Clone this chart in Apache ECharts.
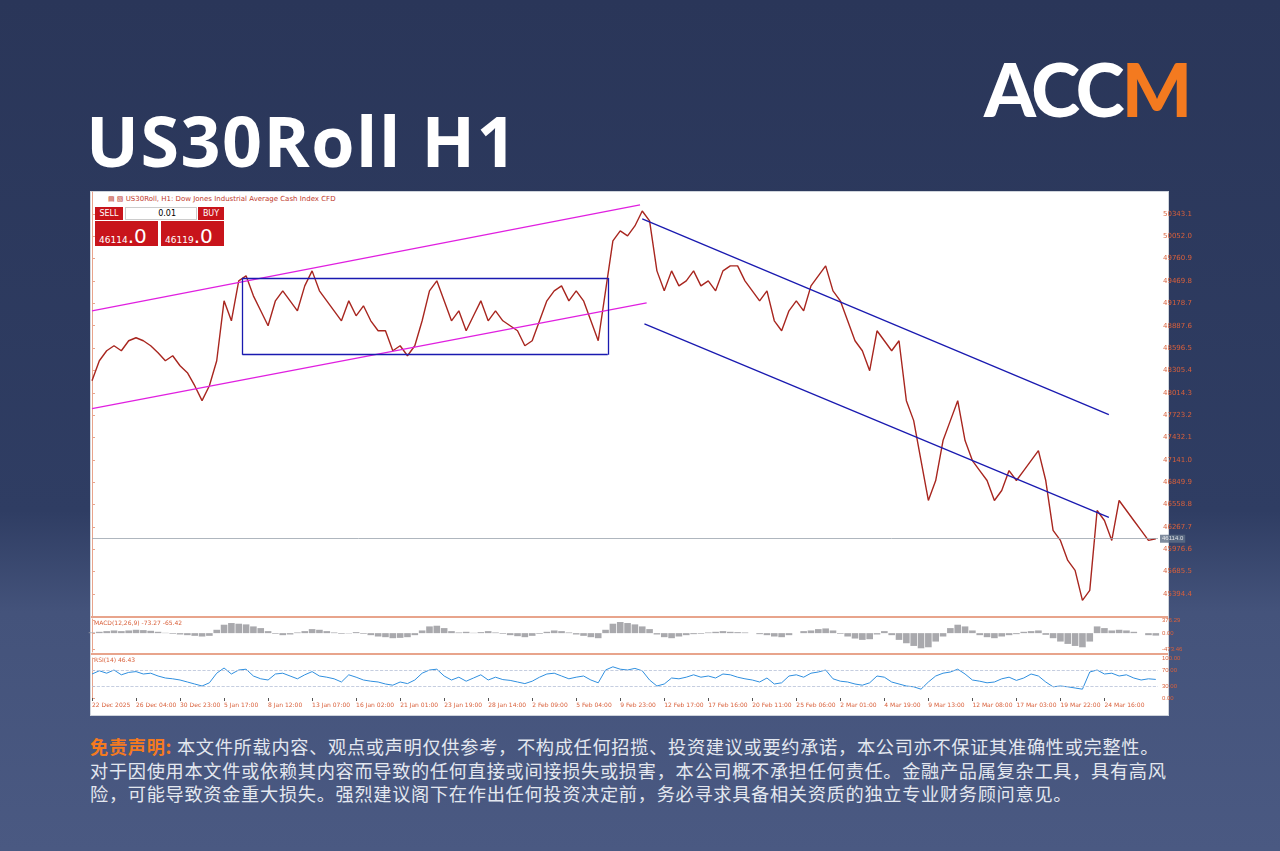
<!DOCTYPE html>
<html><head><meta charset="utf-8">
<script src="https://cdn.jsdelivr.net/npm/echarts@6/dist/echarts.min.js"></script>
<style>
html,body{margin:0;padding:0;width:1280px;height:851px;overflow:hidden;font-family:"Noto Sans CJK SC","Noto Sans",sans-serif}
body{background:linear-gradient(180deg,#2a3659 0%,#2f3d63 60%,#44537b 72%,#4a5982 100%);position:relative}
#title{position:absolute;left:86px;top:92px;font:700 70px "Open Sans",Roboto,sans-serif;color:#fff;letter-spacing:1.5px}
#logo{position:absolute;left:984px;top:44px;font:900 74px Lato,"Open Sans",sans-serif;color:#fff;letter-spacing:-3px}
#logo span{color:#f47a1f}
#panel{position:absolute;left:90px;top:191px;width:1079px;height:525px;background:#fff;border:1px solid #cfd4dc;box-sizing:border-box}
#hdr{position:absolute;left:108px;top:195px;font:7px "DejaVu Sans",sans-serif;color:#c0392b}
.rb{position:absolute;background:#c8141b;color:#fff;font-family:"DejaVu Sans",sans-serif}
#disc{position:absolute;left:90px;top:735px;width:1200px;font-size:18.2px;letter-spacing:0.7px;line-height:23.5px;color:#e3e7ef;white-space:nowrap}
#disc b{color:#f47a1f}
#c{position:absolute;left:0;top:0;width:1280px;height:851px}
</style></head><body>
<div id="title">US30Roll H1</div>
<div id="logo">ACC<span>M</span></div>
<div id="panel"></div>
<div id="hdr">▤ ▧ US30Roll, H1:  Dow Jones Industrial Average Cash Index CFD</div>
<div class="rb" style="left:95px;top:207px;width:28px;height:13px;font-size:8px;line-height:13px;text-align:center">SELL</div>
<div style="position:absolute;left:125px;top:207px;width:72px;height:13px;background:#fff;border:1px solid #ccc;box-sizing:border-box;font:8px 'DejaVu Sans';text-align:right;line-height:12px;padding-right:20px">0.01</div>
<div class="rb" style="left:198px;top:207px;width:26px;height:13px;font-size:8px;line-height:13px;text-align:center">BUY</div>
<div class="rb" style="left:95px;top:221px;width:63px;height:25px;font-size:9px;line-height:30px;padding-left:4px;box-sizing:border-box">46114<span style="font-size:20px">.0</span></div>
<div class="rb" style="left:161px;top:221px;width:63px;height:25px;font-size:9px;line-height:30px;padding-left:4px;box-sizing:border-box">46119<span style="font-size:20px">.0</span></div>
<div id="disc"><b>免责声明:</b> 本文件所载内容、观点或声明仅供参考，不构成任何招揽、投资建议或要约承诺，本公司亦不保证其准确性或完整性。<br>对于因使用本文件或依赖其内容而导致的任何直接或间接损失或损害，本公司概不承担任何责任。金融产品属复杂工具，具有高风<br>险，可能导致资金重大损失。强烈建议阁下在作出任何投资决定前，务必寻求具备相关资质的独立专业财务顾问意见。</div>
<div id="c"></div>
<script>
const tickLabels=["22 Dec 2025","26 Dec 04:00","30 Dec 23:00","5 Jan 17:00","8 Jan 12:00","13 Jan 07:00","16 Jan 02:00","21 Jan 01:00","23 Jan 19:00","28 Jan 14:00","2 Feb 09:00","5 Feb 04:00","9 Feb 23:00","12 Feb 17:00","17 Feb 16:00","20 Feb 11:00","25 Feb 06:00","2 Mar 01:00","4 Mar 19:00","9 Mar 13:00","12 Mar 08:00","17 Mar 03:00","19 Mar 22:00","24 Mar 16:00"];
const priceTicks=[45394.4,45685.5,45976.6,46267.7,46558.8,46849.9,47141.0,47432.1,47723.2,48014.3,48305.4,48596.5,48887.6,49178.7,49469.8,49760.9,50052.0,50343.1];
const closes=[48172,48432,48562,48627,48562,48692,48731,48692,48627,48536,48432,48497,48367,48276,48107,47912,48107,48432,49212,48952,49472,49537,49277,49082,48887,49212,49342,49212,49082,49407,49602,49342,49212,49082,48952,49212,49017,49147,48952,48822,48822,48562,48627,48497,48627,48952,49342,49472,49212,48952,49082,48822,49017,49212,48952,49082,48952,48887,48822,48627,48692,48952,49212,49342,49407,49212,49342,49212,48952,48692,49342,49992,50122,50057,50187,50382,50252,49602,49342,49602,49407,49472,49602,49407,49472,49342,49602,49667,49667,49472,49342,49212,49342,48952,48822,49082,49212,49082,49407,49537,49667,49342,49212,48952,48692,48562,48302,48822,48692,48562,48692,47912,47652,47132,46612,46872,47392,47652,47912,47392,47132,47002,46872,46612,46742,47002,46872,47002,47132,47262,46872,46222,46092,45832,45702,45312,45442,46482,46352,46092,46612,46482,46352,46222,46092,46114];
const macdHist=[20,40,60,80,60,80,100,90,70,40,10,-20,-40,-60,-80,-100,-80,100,250,300,280,260,200,150,60,-20,-60,-40,20,60,120,100,60,20,-20,-10,30,-20,-60,-100,-120,-150,-140,-120,-60,80,200,220,150,60,20,40,10,30,60,20,-20,-60,-90,-120,-80,-20,40,80,60,20,-40,-80,-120,-150,100,280,330,300,260,200,120,-40,-120,-150,-100,-60,-30,-20,20,40,60,40,30,20,0,-30,-60,-100,-120,-60,0,60,80,120,140,80,-20,-100,-160,-200,-180,-40,60,-60,-200,-300,-380,-450,-420,-250,-100,150,250,200,80,-60,-120,-150,-100,-60,-30,40,60,80,-50,-150,-250,-320,-380,-420,-250,200,150,80,100,80,40,0,-60,-73];
const rsi=[60,68,62,70,58,64,66,60,62,55,50,48,45,40,35,30,38,62,75,60,70,72,55,48,45,60,62,55,48,58,66,55,52,48,40,58,52,45,42,40,35,32,40,36,45,62,70,72,55,45,52,42,50,58,45,52,46,44,40,36,42,52,60,62,55,48,52,55,45,38,70,78,72,70,74,68,45,30,35,50,48,52,58,52,55,50,60,58,52,48,45,40,50,35,38,55,58,52,62,65,70,48,42,40,35,32,38,55,52,40,35,30,28,22,40,55,62,65,72,60,45,42,38,40,48,52,44,50,60,55,40,28,30,28,25,22,65,70,60,62,55,58,50,45,48,46.43];
const ORANGE='#d9603b', AX='#e8a48c';
const idx=v=>v.map((y,i)=>[i,y]);
const xTicks=tickLabels.map((_,i)=>i*6);
const XMAX=145.3;
function xAx(gi,show){return {type:'value',gridIndex:gi,min:0,max:XMAX,axisLine:{show:false},splitLine:{show:false},
 axisTick:{show:show,customValues:xTicks,length:3,lineStyle:{color:'#555'}},
 axisLabel:{show:show,customValues:xTicks,showMinLabel:true,showMaxLabel:true,hideOverlap:false,formatter:v=>tickLabels[Math.round(v/6)]||'',fontSize:6,color:ORANGE,fontFamily:'DejaVu Sans',align:'left',margin:4}};}
function yAx(gi,o){return Object.assign({type:'value',gridIndex:gi,position:'right',scale:true,
 axisLine:{show:true,lineStyle:{color:AX}},axisTick:{show:true,length:3,lineStyle:{color:AX}},splitLine:{show:false},
 axisLabel:{fontSize:7,color:ORANGE,fontFamily:'DejaVu Sans',margin:4}},o);}
const ml=(a,b,c)=>[{coord:a},{coord:b,lineStyle:{color:c,width:1.3,type:'solid'}}];
const chart=echarts.init(document.getElementById('c'));
chart.setOption({
 animation:false,
 grid:[{left:92,right:122,top:192,height:424},{left:92,right:122,top:619,height:33},{left:92,right:122,top:658,height:40}],
 xAxis:[xAx(0,false),xAx(1,false),xAx(2,true)],
 yAxis:[yAx(0,{min:45108,max:50629,axisLabel:{fontSize:7,color:ORANGE,fontFamily:'DejaVu Sans',margin:5,showMinLabel:true,showMaxLabel:true,customValues:priceTicks,formatter:v=>v.toFixed(1)},axisTick:{show:true,length:3,customValues:priceTicks,lineStyle:{color:AX}}}),
  yAx(1,{min:-560,max:420,axisLabel:{fontSize:6,color:ORANGE,margin:4,customValues:[376.29,0,-473.46],formatter:v=>v.toFixed(2)},axisTick:{show:true,length:3,customValues:[376.29,0,-473.46],lineStyle:{color:AX}}}),
  yAx(2,{min:0,max:100,scale:false,axisLabel:{fontSize:6,color:ORANGE,margin:4,customValues:[100,70,30,0],formatter:v=>v.toFixed(2)},axisTick:{show:true,length:3,customValues:[100,70,30,0],lineStyle:{color:AX}}})],
 graphic:[{type:'line',shape:{x1:91,y1:617,x2:1168,y2:617},style:{stroke:AX,lineWidth:2}},
  {type:'line',shape:{x1:91,y1:654,x2:1168,y2:654},style:{stroke:AX,lineWidth:2}},
  {type:'text',left:94,top:620,style:{text:'MACD(12,26,9) -73.27 -65.42',fontSize:6,fill:ORANGE,fontFamily:'DejaVu Sans'}},
  {type:'text',left:94,top:657,style:{text:'RSI(14) 46.43',fontSize:6,fill:ORANGE,fontFamily:'DejaVu Sans'}}],
 series:[
  {type:'line',xAxisIndex:0,yAxisIndex:0,data:idx(closes),symbol:'none',lineStyle:{color:'#a8261f',width:1.4},
   markLine:{silent:true,symbol:'none',label:{show:false},lineStyle:{type:'solid'},data:[
    ml([0,49082],[74.7,50460],'#e020e0'),ml([0,47808],[75.6,49186],'#e020e0'),
    ml([20.5,49511],[70.3,49511],'#1a1ab0'),ml([20.5,48510],[70.3,48510],'#1a1ab0'),
    ml([20.5,49511],[20.5,48510],'#1a1ab0'),ml([70.3,49511],[70.3,48510],'#1a1ab0'),
    ml([75.0,50278],[138.6,47730],'#1a1ab0'),ml([75.3,48913],[138.6,46391],'#1a1ab0'),
    [{coord:[0,46114]},{coord:[XMAX,46114],lineStyle:{color:'#9aa3ad',width:0.8}}]]}},
  {type:'scatter',xAxisIndex:0,yAxisIndex:0,data:[[XMAX,46114]],symbolSize:0,
   label:{show:true,position:'right',formatter:'46114.0',fontSize:6,color:'#fff',backgroundColor:'#5f6f86',padding:[1,2],distance:2}},
  {type:'bar',xAxisIndex:1,yAxisIndex:1,data:idx(macdHist),barWidth:'90%',itemStyle:{color:'#a9a9ad'}},
  {type:'line',xAxisIndex:2,yAxisIndex:2,data:idx(rsi),symbol:'none',lineStyle:{color:'#2f8fdf',width:1},
   markLine:{silent:true,symbol:'none',label:{show:false},lineStyle:{color:'#b8c2d8',type:'dashed',width:0.8},data:[{yAxis:70},{yAxis:30}]}}
 ]
});
</script></body></html>
